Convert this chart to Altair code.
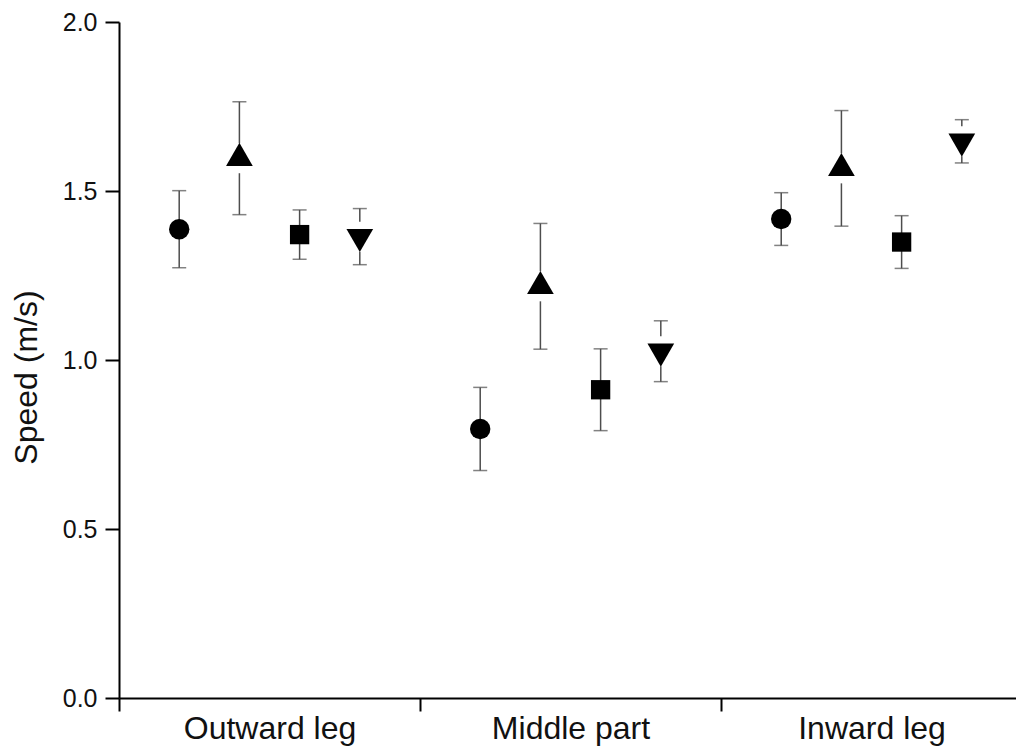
import altair as alt
import pandas as pd

# Trip segments on the x axis and the four marker series
segments = ["Outward leg", "Middle part", "Inward leg"]
series = ["circle", "triangle-up", "square", "triangle-down"]

# Mean speed (m/s) per series, one value per segment
speed_circle = [1.387, 0.796, 1.417]
speed_up = [1.597, 1.218, 1.567]
speed_square = [1.371, 0.912, 1.349]
speed_down = [1.365, 1.026, 1.647]

# Error bar half-widths (m/s)
err_circle = [0.114, 0.123, 0.078]
err_up = [0.167, 0.186, 0.171]
err_square = [0.073, 0.121, 0.078]
err_down = [0.083, 0.090, 0.064]

means = [speed_circle, speed_up, speed_square, speed_down]
errs = [err_circle, err_up, err_square, err_down]

rows = []
for si, name in enumerate(series):
    for gi, seg in enumerate(segments):
        rows.append({"segment": seg, "seg_idx": gi, "series": name,
                     "ser_idx": si, "mean": means[si][gi], "err": errs[si][gi]})
df = pd.DataFrame(rows)

# Triangles centred on their centroid
UP = "M0,-1.155L1,0.577L-1,0.577Z"
DOWN = "M0,1.155L1,-0.577L-1,-0.577Z"

label_expr = " : ".join(
    f"datum.value == {i + 0.5} ? '{s}'" for i, s in enumerate(segments)
) + " : ''"

x_scale = alt.Scale(domain=[0, 2.98], nice=False, zero=False)
y_scale = alt.Scale(domain=[0, 2], nice=False)

x_axis = alt.Axis(
    values=[0, 0.5, 1, 1.5, 2, 2.5],
    labelExpr=label_expr,
    tickOpacity={"condition": {"test": "datum.value % 1 != 0", "value": 0}, "value": 1},
    tickSize=13, tickWidth=2, tickColor="black",
    domainColor="black", domainWidth=2,
    labelFontSize=32, labelFont="Liberation Sans", labelColor="#111",
    labelPadding=2, labelOverlap=False, labelFlush=False,
    grid=False, title=None,
)
y_axis = alt.Axis(
    values=[0, 0.5, 1, 1.5, 2], format=".1f",
    tickSize=14, tickWidth=2, tickColor="black",
    domainColor="black", domainWidth=2,
    labelFontSize=25, labelFont="Liberation Sans", labelColor="#111",
    labelPadding=8, grid=False,
    title="Speed (m/s)", titleFontSize=32, titleFont="Liberation Sans",
    titleFontWeight="normal", titleColor="#111",
    titleX=-76, titleY=355,
)

base = alt.Chart(df).transform_calculate(
    xpos="datum.seg_idx + (datum.ser_idx + 1) / 5",
    lo="datum.mean - datum.err",
    hi="datum.mean + datum.err",
    msize="indexof(['triangle-up', 'triangle-down'], datum.series) >= 0 ? 713"
          " : datum.series == 'circle' ? 415 : 373",
)

X = alt.X("xpos:Q", scale=x_scale, axis=x_axis)
BAR = "#4d4d4d"

# Full bars behind circles and squares
bars_full = base.transform_filter(
    alt.FieldOneOfPredicate(field="series", oneOf=["circle", "square"])
).mark_rule(color=BAR, strokeWidth=1.5).encode(
    x=X, y=alt.Y("lo:Q", scale=y_scale, axis=y_axis), y2="hi:Q"
)

# Bars beside triangles stop short of the marker
tri = base.transform_filter(
    alt.FieldOneOfPredicate(field="series", oneOf=["triangle-up", "triangle-down"])
)
bars_up = tri.mark_rule(color=BAR, strokeWidth=1.5, y2Offset=-15).encode(
    x=X, y=alt.Y("hi:Q", scale=y_scale, axis=y_axis), y2="mean:Q"
)
bars_down = tri.mark_rule(color=BAR, strokeWidth=1.5, y2Offset=15).encode(
    x=X, y=alt.Y("lo:Q", scale=y_scale, axis=y_axis), y2="mean:Q"
)

caps_hi = base.mark_tick(orient="horizontal", color=BAR, size=14, thickness=1.5).encode(
    x=X, y=alt.Y("hi:Q", scale=y_scale, axis=y_axis)
)
caps_lo = base.mark_tick(orient="horizontal", color=BAR, size=14, thickness=1.5).encode(
    x=X, y=alt.Y("lo:Q", scale=y_scale, axis=y_axis)
)

points = base.mark_point(filled=True, opacity=1, color="black").encode(
    x=X,
    y=alt.Y("mean:Q", scale=y_scale, axis=y_axis),
    shape=alt.Shape("series:N", scale=alt.Scale(domain=series, range=["circle", UP, "square", DOWN]), legend=None),
    size=alt.Size("msize:Q", scale=None),
)

chart = alt.layer(bars_full, bars_up, bars_down, caps_hi, caps_lo, points).properties(
    width=897, height=676,
    autosize=alt.AutoSizeParams(type="none"),
    padding={"left": 119, "top": 22, "right": 0, "bottom": 51},
    background="white",
).configure_view(stroke=None)

chart.save("out.html", embed_options={"renderer": "svg", "actions": False})
